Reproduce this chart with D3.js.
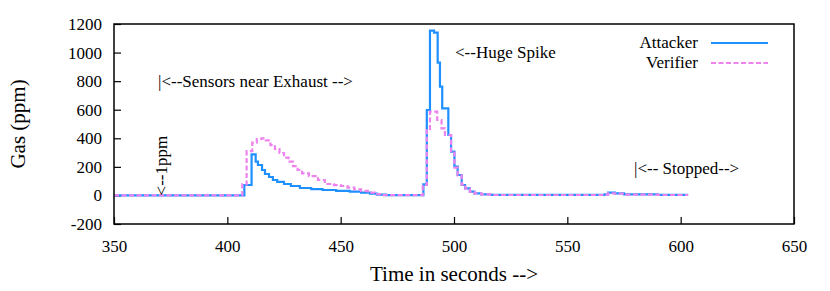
<!DOCTYPE html>
<html>
<head>
<meta charset="utf-8">
<script src="https://cdn.jsdelivr.net/npm/d3@7"></script>
<style>
  body { margin: 0; background: #fff; }
</style>
</head>
<body>
<div id="chart"></div>
<script>
// Attacker sensor (step samples, seconds / ppm)
const attackerTime = [350, 407.5, 410.7, 412.5, 413.5, 415.3, 416.6, 418.4, 420.1, 422, 425, 428, 432, 437, 442, 448, 454, 459, 463, 466, 470,
  486.5, 488, 489.4, 491.2, 492.8, 493.8, 494.8, 497.5, 498.7, 500.2, 501.6, 503.4, 504.9, 507, 509, 512, 516,
  566.5, 568, 571, 575, 590, 603.3];
const attackerGas = [1, 73, 288, 236, 213, 178, 150, 129, 108, 95, 80, 66, 52, 44, 38, 32, 26, 20, 12, 5, 2,
  78, 598, 1153, 1140, 929, 761, 610, 423, 306, 201, 143, 73, 50, 26, 15, 8, 4,
  8, 19, 15, 8, 4, 4];

// Verifier sensor
const verifierTime = [350, 406.6, 408.5, 411, 413, 415, 417, 419, 421, 423, 425, 427, 429, 431, 433, 436, 440, 443, 447, 450, 453, 456, 459, 462, 465, 468,
  486.2, 488, 489.4, 492.6, 494.5, 496, 498.7, 500.2, 501.6, 503.4, 505, 507, 509, 512, 516,
  566.5, 568, 571, 575, 590, 603.3];
const verifierGas = [1, 78, 310, 370, 395, 400, 385, 352, 325, 297, 265, 236, 205, 178, 155, 135, 108, 80, 72, 66, 55, 42, 32, 20, 9, 2,
  73, 458, 586, 528, 470, 423, 300, 195, 140, 75, 48, 25, 14, 7, 3,
  6, 15, 12, 6, 3, 3];

const xTicks = [350, 400, 450, 500, 550, 600, 650];
const yTicks = [-200, 0, 200, 400, 600, 800, 1000, 1200];

const width = 830, height = 291;
const margin = { top: 24, right: 36, bottom: 67, left: 114 };
const FONT = "Liberation Serif";

const svg = d3.select("#chart").append("svg")
    .attr("width", width)
    .attr("height", height)
    .attr("font-family", FONT);

const x = d3.scaleLinear().domain([350, 650]).range([margin.left, width - margin.right]);
const y = d3.scaleLinear().domain([-200, 1200]).range([height - margin.bottom, margin.top]);

// Axes (ticks point inward, like gnuplot)
const plain = d => String(d);
const xAxis = svg.append("g")
    .attr("transform", `translate(0,${height - margin.bottom})`)
    .call(d3.axisBottom(x).tickValues(xTicks).tickFormat(plain).tickSizeInner(-7).tickSizeOuter(0).tickPadding(16));
const yAxis = svg.append("g")
    .attr("transform", `translate(${margin.left},0)`)
    .call(d3.axisLeft(y).tickValues(yTicks).tickFormat(plain).tickSizeInner(-7).tickSizeOuter(0).tickPadding(12));

[xAxis, yAxis].forEach(g => {
    g.attr("font-family", FONT).attr("font-size", 17);
    g.select(".domain").remove();
    g.selectAll("line").attr("stroke", "#000").attr("stroke-width", 1.2);
    g.selectAll("text").attr("fill", "#000");
});
xAxis.selectAll("text").attr("dy", "0.71em");

// Lines
const stepLine = d3.line()
    .x(d => x(d[0]))
    .y(d => y(d[1]))
    .curve(d3.curveStepAfter);

const attacker = attackerTime.map((t, i) => [t, attackerGas[i]]);
const verifier = verifierTime.map((t, i) => [t, verifierGas[i]]);

svg.append("path")
    .datum(attacker)
    .attr("d", stepLine)
    .attr("fill", "none")
    .attr("stroke", "#1e90ff")
    .attr("stroke-width", 2.2);

svg.append("path")
    .datum(verifier)
    .attr("d", stepLine)
    .attr("fill", "none")
    .attr("stroke", "#ee82ee")
    .attr("stroke-width", 2.2)
    .attr("stroke-dasharray", "5,2.5");

// Border
svg.append("rect")
    .attr("x", margin.left)
    .attr("y", margin.top)
    .attr("width", width - margin.left - margin.right)
    .attr("height", height - margin.top - margin.bottom)
    .attr("fill", "none")
    .attr("stroke", "#000")
    .attr("stroke-width", 1.5);

function label(sel, size) {
    return sel.attr("font-family", FONT).attr("font-size", size).attr("fill", "#000");
}

// Axis titles
label(svg.append("text"), 21)
    .attr("transform", `translate(25,${(margin.top + height - margin.bottom) / 2}) rotate(-90)`)
    .attr("text-anchor", "middle")
    .text("Gas (ppm)");

label(svg.append("text"), 21)
    .attr("x", (margin.left + width - margin.right) / 2)
    .attr("y", 281)
    .attr("text-anchor", "middle")
    .text("Time in seconds -->");

// Annotations
label(svg.append("text"), 17).attr("x", 158).attr("y", 87).text("|<--Sensors near Exhaust -->");
label(svg.append("text"), 17).attr("x", 455).attr("y", 58).text("<--Huge Spike");
label(svg.append("text"), 17).attr("x", 634).attr("y", 174).text("|<-- Stopped-->");
label(svg.append("text"), 17)
    .attr("transform", `translate(167,${y(0)}) rotate(-90)`)
    .text("<--1ppm");

// Legend
const legend = [
    { name: "Attacker", color: "#1e90ff", dash: null },
    { name: "Verifier", color: "#ee82ee", dash: "5,2.5" }
];
legend.forEach((d, i) => {
    const ly = 43 + i * 20;
    label(svg.append("text"), 17)
        .attr("x", 698).attr("y", ly + 5)
        .attr("text-anchor", "end")
        .text(d.name);
    svg.append("line")
        .attr("x1", 711).attr("x2", 768)
        .attr("y1", ly).attr("y2", ly)
        .attr("stroke", d.color)
        .attr("stroke-width", 2.2)
        .attr("stroke-dasharray", d.dash);
});
</script>
</body>
</html>
